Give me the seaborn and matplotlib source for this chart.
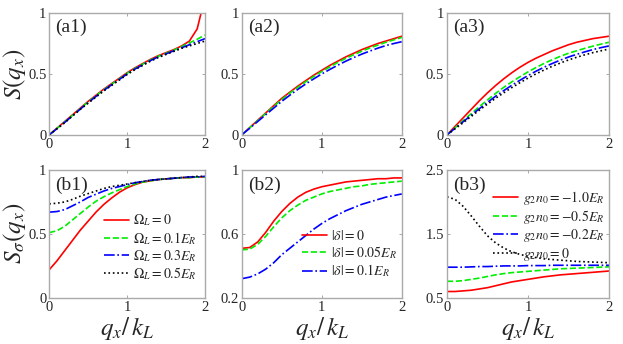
import numpy as np
import pandas as pd
import matplotlib
matplotlib.use("Agg")
import matplotlib.pyplot as plt
import seaborn as sns

sns.set_style("white")
plt.rcParams['font.family'] = 'serif'
plt.rcParams['font.serif'] = ['Liberation Serif', 'DejaVu Serif']
plt.rcParams['mathtext.fontset'] = 'stix'

# -------------------------------
# Data
# -------------------------------
q = [0.0, 0.1, 0.2, 0.3, 0.4, 0.5, 0.6, 0.7, 0.8, 0.9, 1.0,
     1.1, 1.2, 1.3, 1.4, 1.5, 1.6, 1.7, 1.8, 1.9, 2.0]
q_red_a1 = [0.0, 0.1, 0.2, 0.3, 0.4, 0.5, 0.6, 0.7, 0.8, 0.9, 1.0,
            1.1, 1.2, 1.3, 1.4, 1.5, 1.6, 1.7, 1.8, 1.9, 1.95]

# (a1) Omega_L = 0, 0.1, 0.3, 0.5 E_R
a1_red = [0, 0.055, 0.11, 0.165, 0.22, 0.275, 0.325, 0.375, 0.42, 0.465, 0.51,
          0.55, 0.585, 0.62, 0.65, 0.675, 0.70, 0.73, 0.77, 0.87, 1.0]
a1_green = [0, 0.053, 0.107, 0.16, 0.215, 0.27, 0.32, 0.37, 0.415, 0.46, 0.505,
            0.545, 0.58, 0.615, 0.645, 0.67, 0.695, 0.725, 0.755, 0.785, 0.82]
a1_blue = [0, 0.051, 0.103, 0.157, 0.212, 0.265, 0.315, 0.365, 0.41, 0.455, 0.5,
           0.54, 0.575, 0.61, 0.64, 0.665, 0.69, 0.715, 0.74, 0.765, 0.79]
a1_black = [0, 0.05, 0.1, 0.155, 0.21, 0.26, 0.31, 0.36, 0.405, 0.45, 0.495,
            0.535, 0.57, 0.605, 0.635, 0.66, 0.685, 0.71, 0.73, 0.75, 0.77]

# (a2) |delta| = 0, 0.05, 0.1 E_R
a2_red = [0, 0.06, 0.12, 0.18, 0.24, 0.3, 0.35, 0.4, 0.445, 0.49, 0.53,
          0.57, 0.605, 0.64, 0.67, 0.70, 0.725, 0.75, 0.77, 0.79, 0.81]
a2_green = [0, 0.058, 0.117, 0.175, 0.234, 0.29, 0.342, 0.39, 0.436, 0.48, 0.52,
            0.558, 0.594, 0.628, 0.658, 0.687, 0.713, 0.737, 0.76, 0.78, 0.80]
a2_blue = [0, 0.054, 0.11, 0.165, 0.22, 0.275, 0.325, 0.373, 0.418, 0.46, 0.5,
           0.537, 0.572, 0.605, 0.635, 0.663, 0.688, 0.712, 0.733, 0.75, 0.765]

# (a3) g2 n0 = -1.0, -0.5, -0.2, 0 E_R
a3_red = [0, 0.07, 0.14, 0.21, 0.28, 0.345, 0.405, 0.46, 0.51, 0.555, 0.595,
          0.63, 0.66, 0.69, 0.715, 0.74, 0.76, 0.775, 0.79, 0.80, 0.81]
a3_green = [0, 0.058, 0.117, 0.175, 0.232, 0.287, 0.34, 0.39, 0.435, 0.477, 0.517,
            0.553, 0.587, 0.617, 0.645, 0.67, 0.69, 0.71, 0.728, 0.745, 0.76]
a3_blue = [0, 0.054, 0.108, 0.162, 0.215, 0.267, 0.317, 0.363, 0.407, 0.448, 0.487,
           0.523, 0.556, 0.586, 0.614, 0.639, 0.661, 0.681, 0.7, 0.716, 0.73]
a3_black = [0, 0.05, 0.1, 0.152, 0.203, 0.253, 0.3, 0.345, 0.388, 0.428, 0.466,
            0.501, 0.533, 0.563, 0.59, 0.615, 0.637, 0.657, 0.675, 0.69, 0.705]

# (b1)
b1_red = [0.22, 0.29, 0.37, 0.45, 0.53, 0.60, 0.67, 0.73, 0.78, 0.825, 0.86,
          0.885, 0.905, 0.915, 0.925, 0.93, 0.935, 0.94, 0.94, 0.945, 0.945]
b1_green = [0.51, 0.525, 0.56, 0.61, 0.66, 0.71, 0.755, 0.79, 0.82, 0.845, 0.87,
            0.89, 0.905, 0.915, 0.925, 0.93, 0.935, 0.94, 0.94, 0.945, 0.945]
b1_blue = [0.67, 0.675, 0.69, 0.72, 0.75, 0.785, 0.81, 0.835, 0.855, 0.87, 0.885,
           0.9, 0.91, 0.92, 0.925, 0.93, 0.935, 0.94, 0.945, 0.945, 0.95]
b1_black = [0.735, 0.74, 0.75, 0.77, 0.795, 0.815, 0.835, 0.855, 0.87, 0.88, 0.89,
            0.9, 0.91, 0.92, 0.925, 0.93, 0.935, 0.94, 0.945, 0.95, 0.95]

# (b2)
b2_red = [0.51, 0.515, 0.55, 0.61, 0.68, 0.74, 0.79, 0.83, 0.86, 0.88, 0.895,
          0.905, 0.915, 0.925, 0.93, 0.935, 0.94, 0.945, 0.945, 0.95, 0.95]
b2_green = [0.5, 0.505, 0.535, 0.585, 0.645, 0.70, 0.745, 0.78, 0.81, 0.83, 0.85,
            0.865, 0.875, 0.885, 0.895, 0.9, 0.91, 0.915, 0.92, 0.925, 0.93]
b2_blue = [0.32, 0.33, 0.35, 0.38, 0.42, 0.47, 0.51, 0.55, 0.59, 0.63, 0.665,
           0.695, 0.72, 0.745, 0.765, 0.785, 0.80, 0.815, 0.83, 0.84, 0.85]

# (b3)
b3_red = [0.6, 0.6, 0.61, 0.62, 0.64, 0.66, 0.69, 0.72, 0.75, 0.77, 0.79,
          0.81, 0.83, 0.845, 0.86, 0.87, 0.88, 0.89, 0.9, 0.91, 0.92]
b3_green = [0.76, 0.76, 0.77, 0.79, 0.81, 0.835, 0.86, 0.88, 0.895, 0.905, 0.915,
            0.925, 0.935, 0.945, 0.955, 0.96, 0.965, 0.97, 0.975, 0.98, 0.985]
b3_blue = [0.98, 0.98, 0.98, 0.985, 0.99, 0.99, 0.995, 1.0, 1.0, 1.0, 1.005,
           1.005, 1.005, 1.01, 1.01, 1.01, 1.01, 1.01, 1.01, 1.01, 1.01]
b3_black = [2.08, 2.04, 1.93, 1.78, 1.62, 1.47, 1.36, 1.28, 1.22, 1.18, 1.15,
            1.13, 1.11, 1.10, 1.09, 1.08, 1.07, 1.065, 1.06, 1.055, 1.05]

b1_labels = [r'$\Omega_L=0$', r'$\Omega_L=0.1E_R$', r'$\Omega_L=0.3E_R$', r'$\Omega_L=0.5E_R$']
b2_labels = [r'$|\delta|=0$', r'$|\delta|=0.05E_R$', r'$|\delta|=0.1E_R$']
b3_labels = [r'$g_2n_0=-1.0E_R$', r'$g_2n_0=-0.5E_R$', r'$g_2n_0=-0.2E_R$', r'$g_2n_0=0$']

colors = ['#ff0000', '#00ee00', '#0000ff', '#000000']
styles = ['-', '--', '-.', ':']

# -------------------------------
# Figure
# -------------------------------
fig = plt.figure(figsize=(6.23, 3.44), dpi=100)
lefts = [0.079, 0.388, 0.7175]
widths = [0.250, 0.257, 0.26]
ax_a = [fig.add_axes([lefts[i], 0.608, widths[i], 0.354]) for i in range(3)]
ax_b = [fig.add_axes([lefts[i], 0.134, widths[i], 0.372]) for i in range(3)]


def draw(ax, xs, ys, labels=None):
    for i, y in enumerate(ys):
        x = xs[i] if isinstance(xs[0], list) else xs
        sns.lineplot(x=x, y=y, ax=ax, color=colors[i], linestyle=styles[i],
                     linewidth=1.2, label=None if labels is None else labels[i],
                     legend=False)


draw(ax_a[0], [q_red_a1, q, q, q], [a1_red, a1_green, a1_blue, a1_black])
draw(ax_a[1], q, [a2_red, a2_green, a2_blue])
draw(ax_a[2], q, [a3_red, a3_green, a3_blue, a3_black])
draw(ax_b[0], q, [b1_red, b1_green, b1_blue, b1_black], b1_labels)
draw(ax_b[1], q, [b2_red, b2_green, b2_blue], b2_labels)
draw(ax_b[2], q, [b3_red, b3_green, b3_blue, b3_black], b3_labels)

ylims = [(0, 1), (0, 1), (0, 1), (0, 1), (0.2, 1), (0.5, 2.5)]
yticks = [[0, 0.5, 1], [0, 0.5, 1], [0, 0.5, 1], [0, 0.5, 1], [0.2, 0.6, 1], [0.5, 1.5, 2.5]]
ytl = [['0', '0.5', '1']] * 4 + [['0.2', '0.6', '1'], ['0.5', '1.5', '2.5']]
tags = ['(a1)', '(a2)', '(a3)', '(b1)', '(b2)', '(b3)']

for k, ax in enumerate(ax_a + ax_b):
    ax.set_xlim(0, 2)
    ax.set_ylim(*ylims[k])
    ax.set_xticks([0, 1, 2])
    ax.set_xticklabels(['0', '1', '2'])
    ax.set_yticks(yticks[k])
    ax.set_yticklabels(ytl[k])
    ax.tick_params(direction='in', length=2.5, width=0.6, color='#999999',
                   labelsize=10.5, pad=2, top=True, right=True,
                   bottom=True, left=True)
    for s in ax.spines.values():
        s.set_color('#aaaaaa')
        s.set_linewidth(1.0)
    ax.set_xlabel('')
    ax.set_ylabel('')
    ax.text(0.04, 0.95, tags[k], transform=ax.transAxes, fontsize=14,
            ha='left', va='top')

ax_a[0].set_ylabel(r'$S(q_x)$', fontsize=18, labelpad=0)
ax_b[0].set_ylabel(r'$S_\sigma(q_x)$', fontsize=18, labelpad=0)
for ax in ax_b:
    ax.set_xlabel(r'$q_x/\,k_L$', fontsize=18, labelpad=1)

leg_kw = dict(frameon=False, fontsize=10, handlelength=1.8, handletextpad=0.3,
              labelspacing=0.1, borderaxespad=0.2)
ax_b[0].legend(loc='lower right', bbox_to_anchor=(1.0, 0.06), **leg_kw)
ax_b[1].legend(loc='lower right', bbox_to_anchor=(1.02, 0.08), **leg_kw)
ax_b[2].legend(loc='upper right', bbox_to_anchor=(1.02, 0.92), **leg_kw)

plt.savefig("out.png", dpi=100)
